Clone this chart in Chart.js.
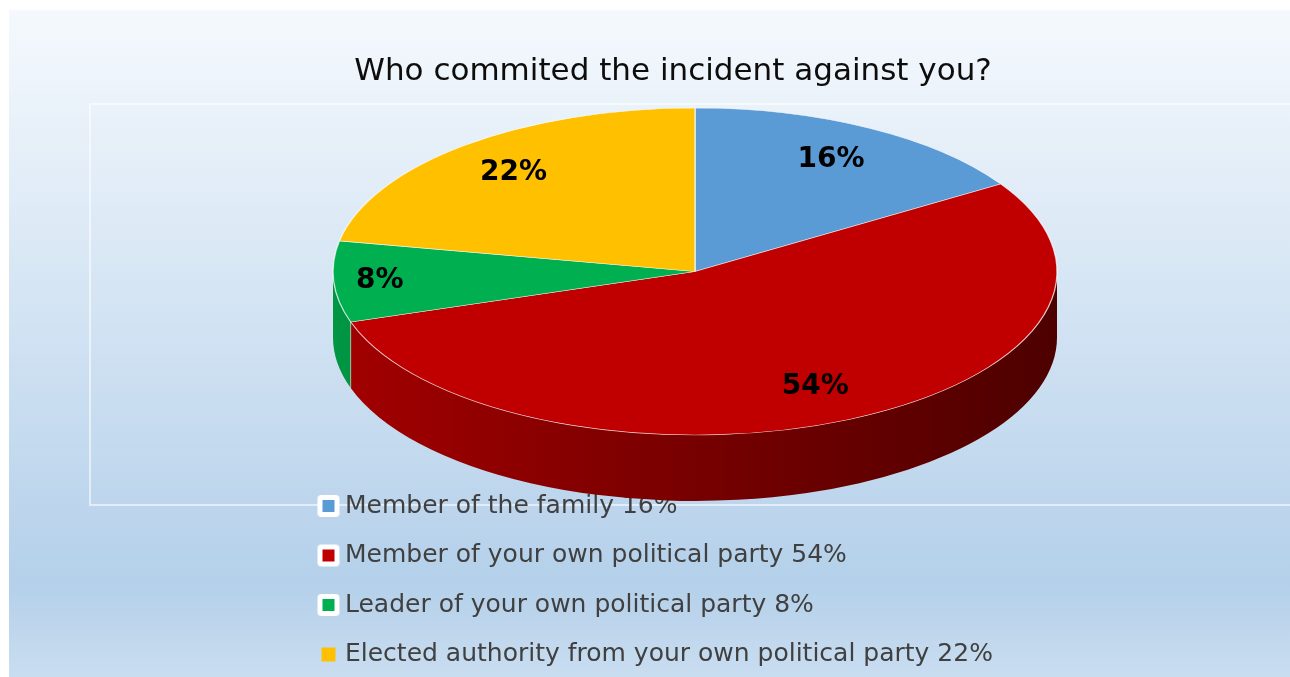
<!DOCTYPE html>
<html>
<head>
<meta charset="utf-8">
<title>Who commited the incident against you?</title>
<script src="https://cdn.jsdelivr.net/npm/chart.js@4.4.1/dist/chart.umd.min.js"></script>
<style>
  html, body { margin: 0; padding: 0; background: #fff; overflow: hidden; }
  #wrap { width: 1290px; height: 677px; }
</style>
</head>
<body>
<div id="wrap"><canvas id="myChart" width="1290" height="677"></canvas></div>
<script>
// data
var chartTitle = 'Who commited the incident against you?';
var categories = [
    'Member of the family',
    'Member of your own political party',
    'Leader of your own political party',
    'Elected authority from your own political party'
];
var shares = [16, 54, 8, 22];
var sliceColors = ['#5b9bd5', '#c00000', '#00b050', '#ffc000'];

// where the tilted pie sits on the page (top face ellipse + wall depth)
var pieBox = { cx: 695, cy: 271.5, rx: 362, ry: 163.5, depth: 66 };

function shade(hex, f) {
    var n = parseInt(hex.slice(1), 16);
    var r = Math.round(((n >> 16) & 255) * f);
    var g = Math.round(((n >> 8) & 255) * f);
    var b = Math.round((n & 255) * f);
    return 'rgb(' + r + ',' + g + ',' + b + ')';
}

// little legend markers (white rounded frame like the original)
function legendMark(color, framed) {
    var c = document.createElement('canvas');
    c.width = 24; c.height = 24;
    var g = c.getContext('2d');
    if (framed) {
        g.fillStyle = '#ffffff';
        g.beginPath();
        g.moveTo(5, 1); g.lineTo(19, 1); g.quadraticCurveTo(23, 1, 23, 5);
        g.lineTo(23, 19); g.quadraticCurveTo(23, 23, 19, 23);
        g.lineTo(5, 23); g.quadraticCurveTo(1, 23, 1, 19);
        g.lineTo(1, 5); g.quadraticCurveTo(1, 1, 5, 1);
        g.fill();
        g.fillStyle = color;
        g.fillRect(6, 6, 12, 12);
    } else {
        g.fillStyle = color;
        g.fillRect(5, 5, 14, 14);
    }
    return c;
}
var marks = sliceColors.map(function (c, i) { return legendMark(c, i < 3); });

var backdrop = {
    id: 'backdrop',
    beforeDraw: function (chart) {
        var ctx = chart.ctx, w = chart.width, h = chart.height;
        ctx.save();
        ctx.fillStyle = '#ffffff';
        ctx.fillRect(0, 0, w, h);
        var g = ctx.createLinearGradient(0, 10, 0, h);
        g.addColorStop(0, '#f5f9fd');
        g.addColorStop(0.86, '#b4d0ea');
        g.addColorStop(1, '#c9ddf0');
        ctx.fillStyle = g;
        ctx.fillRect(9, 10, w - 9, h - 10);
        // faint plot area frame
        ctx.strokeStyle = 'rgba(255,255,255,0.75)';
        ctx.lineWidth = 1.5;
        ctx.strokeRect(90, 104, w, 401);
        ctx.restore();
    }
};

var pie3d = {
    id: 'pie3d',
    beforeDatasetsDraw: function (chart) {
        var ctx = chart.ctx, b = pieBox;
        var arcs = chart.getDatasetMeta(0).data;

        // walls: only the front half (0..PI) can be seen
        arcs.forEach(function (arc, i) {
            var a0 = Math.max(arc.startAngle, 0);
            var a1 = Math.min(arc.endAngle, Math.PI);
            if (a1 <= a0) return;
            var base = sliceColors[i];
            var g = ctx.createLinearGradient(b.cx - b.rx, 0, b.cx + b.rx, 0);
            g.addColorStop(0, shade(base, 0.85));
            g.addColorStop(0.5, shade(base, 0.62));
            g.addColorStop(1, shade(base, 0.4));
            ctx.beginPath();
            ctx.ellipse(b.cx, b.cy, b.rx, b.ry, 0, a0, a1);
            ctx.ellipse(b.cx, b.cy + b.depth, b.rx, b.ry, 0, a1, a0, true);
            ctx.closePath();
            ctx.fillStyle = g;
            ctx.fill();
            if (a0 > 0) {
                var ex = b.cx + b.rx * Math.cos(a0), ey = b.cy + b.ry * Math.sin(a0);
                ctx.beginPath();
                ctx.moveTo(ex, ey);
                ctx.lineTo(ex, ey + b.depth);
                ctx.strokeStyle = 'rgba(255,255,255,0.45)';
                ctx.lineWidth = 1;
                ctx.stroke();
            }
        });

        // squash the flat pie into the top face
        var p = arcs[0].getProps(['x', 'y', 'outerRadius'], true);
        ctx.save();
        ctx.translate(b.cx, b.cy);
        ctx.scale(b.rx / p.outerRadius, b.ry / p.outerRadius);
        ctx.translate(-p.x, -p.y);
    },
    afterDatasetsDraw: function (chart) {
        var ctx = chart.ctx, b = pieBox;
        ctx.restore();

        var arcs = chart.getDatasetMeta(0).data;
        ctx.save();
        ctx.font = 'bold 28px "DejaVu Sans"';
        ctx.fillStyle = '#000000';
        ctx.textAlign = 'center';
        ctx.textBaseline = 'middle';
        arcs.forEach(function (arc, i) {
            var mid = (arc.startAngle + arc.endAngle) / 2;
            var px = b.rx * Math.cos(mid), py = b.ry * Math.sin(mid);
            var d = Math.sqrt(px * px + py * py);
            var ux = px / d, uy = py / d;
            var text = shares[i] + '%';
            var half = ctx.measureText(text).width / 2 * Math.abs(ux) + 10 * Math.abs(uy);
            var r = Math.max(0.78 * d, d - half - 22);
            ctx.fillText(text, b.cx + ux * r, b.cy + uy * r);
        });
        ctx.restore();
    }
};

var ctx = document.getElementById('myChart');
var chart = new Chart(ctx, {
    type: 'pie',
    data: {
        labels: categories,
        datasets: [{
            data: shares,
            backgroundColor: sliceColors,
            borderColor: 'rgba(255,255,255,0.7)',
            borderWidth: 0.7
        }]
    },
    options: {
        responsive: false,
        animation: false,
        events: [],
        layout: { padding: { left: 300, right: 244, top: 10, bottom: 0 } },
        plugins: {
            title: {
                display: true,
                text: chartTitle,
                color: '#0d0d0d',
                font: { family: 'DejaVu Sans', size: 31, weight: 'normal' },
                padding: { top: 43, bottom: 10 }
            },
            legend: {
                position: 'bottom',
                align: 'start',
                maxHeight: 208,
                labels: {
                    usePointStyle: true,
                    pointStyleWidth: 8,
                    padding: 24.5,
                    color: '#404040',
                    font: { family: 'DejaVu Sans', size: 25 },
                    generateLabels: function (chart) {
                        return categories.map(function (name, i) {
                            return {
                                text: name + ' ' + shares[i] + '%',
                                fillStyle: sliceColors[i],
                                strokeStyle: sliceColors[i],
                                lineWidth: 0,
                                pointStyle: marks[i],
                                fontColor: '#404040',
                                hidden: false,
                                index: i
                            };
                        });
                    }
                }
            },
            tooltip: { enabled: false }
        }
    },
    plugins: [backdrop, pie3d]
});
</script>
</body>
</html>
